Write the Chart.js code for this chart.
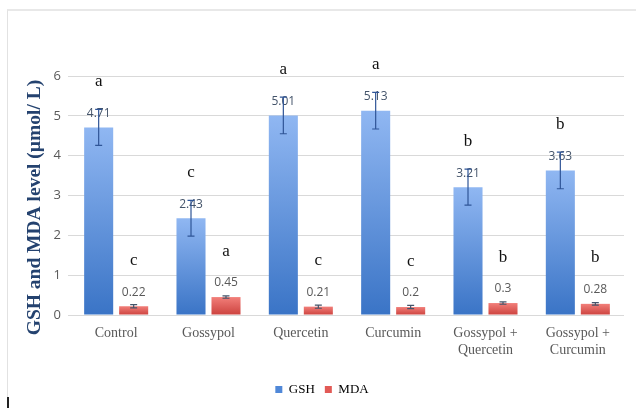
<!DOCTYPE html>
<html>
<head>
<meta charset="utf-8">
<script src="https://cdn.jsdelivr.net/npm/chart.js@4.4.1/dist/chart.umd.min.js"></script>
<style>
  html, body { margin: 0; padding: 0; background: #fff; }
  #wrap { position: relative; width: 636px; height: 408px; overflow: hidden; }
  #frame { position: absolute; left: 7px; top: 9px; width: 660px; height: 440px;
           border-left: 1px solid #e2e2e2; border-top: 2px solid #e8e8e8; }
  #caret { position: absolute; left: 7px; top: 397px; width: 2px; height: 11px; background: #222; }
  canvas { position: absolute; left: 0; top: 0; }
</style>
</head>
<body>
<div id="wrap">
  <div id="frame"></div>
  <canvas id="chart" width="636" height="408"></canvas>
  <div id="caret"></div>
</div>
<script>
// Treatment groups (multi-line labels are arrays)
const categories = [
  ["Control"], ["Gossypol"], ["Quercetin"], ["Curcumin"],
  ["Gossypol +", "Quercetin"], ["Gossypol +", "Curcumin"]
];
// Means
const gshValues = [4.71, 2.43, 5.01, 5.13, 3.21, 3.63];
const mdaValues = [0.22, 0.45, 0.21, 0.2, 0.3, 0.28];
// Standard errors
const gshErrors = [0.45, 0.45, 0.46, 0.46, 0.45, 0.46];
const mdaErrors = [0.04, 0.03, 0.04, 0.04, 0.03, 0.03];
// Significance letters
const gshLetters = ["a", "c", "a", "a", "b", "b"];
const mdaLetters = ["c", "a", "c", "c", "b", "b"];
// Y axis ticks
const yTicks = [0, 1, 2, 3, 4, 5, 6];
const yTitle = "GSH and MDA level (µmol/ L)";

const SANS = "'Open Sans', 'Noto Sans', sans-serif";
const SERIF = "'Liberation Serif', 'DejaVu Serif', serif";

function barGradient(topColor, bottomColor) {
  return (ctx) => {
    const chart = ctx.chart;
    const y = chart.scales && chart.scales.y;
    if (ctx.type !== 'data' || !y || !chart.chartArea) return bottomColor;
    const y0 = y.getPixelForValue(0);
    const y1 = y.getPixelForValue(ctx.parsed.y);
    if (!isFinite(y0) || !isFinite(y1) || y0 === y1) return bottomColor;
    const g = chart.ctx.createLinearGradient(0, y1, 0, y0);
    g.addColorStop(0, topColor);
    g.addColorStop(1, bottomColor);
    return g;
  };
}

const series = [
  { label: "GSH", values: gshValues, errors: gshErrors, letters: gshLetters,
    swatch: "#5088d8", top: "#90b7f2", bottom: "#3a74c6",
    labelColor: "#44546a", errColor: "#2f5597" },
  { label: "MDA", values: mdaValues, errors: mdaErrors, letters: mdaLetters,
    swatch: "#e25a56", top: "#f27f7a", bottom: "#cc423e",
    labelColor: "#595959", errColor: "#44546a" }
];

// Value labels, error bars and significance letters on top of the bars,
// plus the rotated y-axis title
const annotations = {
  id: 'annotations',
  afterDatasetsDraw(chart) {
    const ctx = chart.ctx;
    const yScale = chart.scales.y;
    ctx.save();
    series.forEach((s, di) => {
      const meta = chart.getDatasetMeta(di);
      meta.data.forEach((bar, i) => {
        const x = bar.x;
        const yTop = yScale.getPixelForValue(s.values[i]);
        const labelY = yTop - 14;
        // value label
        ctx.font = "12px " + SANS;
        ctx.fillStyle = s.labelColor;
        ctx.textAlign = 'center';
        ctx.textBaseline = 'middle';
        ctx.fillText(String(s.values[i]), x, labelY);
        // significance letter
        ctx.font = "17px " + SERIF;
        ctx.fillStyle = "#111";
        ctx.fillText(s.letters[i], x, labelY - 32);
        // error bar
        const hi = yScale.getPixelForValue(s.values[i] + s.errors[i]);
        const lo = yScale.getPixelForValue(s.values[i] - s.errors[i]);
        ctx.strokeStyle = s.errColor;
        ctx.lineWidth = 1.2;
        ctx.beginPath();
        ctx.moveTo(x, hi); ctx.lineTo(x, lo);
        ctx.moveTo(x - 3.5, hi); ctx.lineTo(x + 3.5, hi);
        ctx.moveTo(x - 3.5, lo); ctx.lineTo(x + 3.5, lo);
        ctx.stroke();
      });
    });
    // y-axis title
    const area = chart.chartArea;
    ctx.translate(35, (area.top + area.bottom) / 2 + 12);
    ctx.rotate(-Math.PI / 2);
    ctx.font = "bold 19.5px " + SERIF;
    ctx.fillStyle = "#24426f";
    ctx.textAlign = 'center';
    ctx.textBaseline = 'middle';
    ctx.fillText(yTitle, 0, 0);
    ctx.restore();
  }
};

new Chart(document.getElementById('chart'), {
  type: 'bar',
  data: {
    labels: categories,
    datasets: series.map(s => ({
      label: s.label,
      data: s.values,
      backgroundColor: barGradient(s.top, s.bottom),
      borderWidth: 0,
      categoryPercentage: 0.758,
      barPercentage: 0.83
    }))
  },
  options: {
    responsive: false,
    animation: false,
    devicePixelRatio: 1,
    layout: { padding: { left: 20, right: 12, top: 76, bottom: 2 } },
    plugins: {
      tooltip: { enabled: false },
      legend: {
        position: 'bottom',
        labels: {
          boxWidth: 7, boxHeight: 7, padding: 10,
          color: "#595959",
          font: { family: SERIF, size: 13 },
          generateLabels: (chart) => series.map((s, i) => ({
            text: s.label, fillStyle: s.swatch, strokeStyle: s.swatch,
            lineWidth: 0, datasetIndex: i, hidden: false
          }))
        }
      }
    },
    scales: {
      x: {
        grid: { display: false, drawTicks: false },
        border: { display: false },
        ticks: { color: "#595959", font: { family: SERIF, size: 14 }, padding: 10, maxRotation: 0, autoSkip: false },
        afterFit: (scale) => { scale.height = 58; }
      },
      y: {
        min: 0, max: 6,
        afterBuildTicks: (scale) => { scale.ticks = yTicks.map(v => ({ value: v })); },
        grid: { color: "#d9d9d9", lineWidth: 1, drawTicks: true, tickLength: 2 },
        border: { display: false },
        ticks: { color: "#595959", font: { family: SANS, size: 13 }, padding: 7 },
        afterFit: (scale) => { scale.width = 50; }
      }
    }
  },
  plugins: [annotations]
});
</script>
</body>
</html>
